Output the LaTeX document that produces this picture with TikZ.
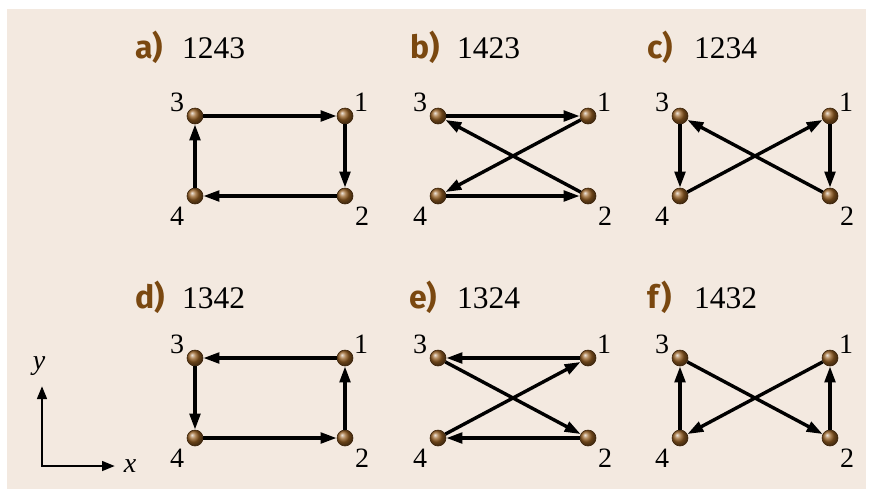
\documentclass[tikz,border=0pt]{standalone}
\usepackage{fontspec}
\setmainfont{Liberation Serif}
\newfontfamily\lblfont{Fira Sans}
\usetikzlibrary{arrows.meta}
\definecolor{bg}{RGB}{243,233,224}
\definecolor{ttl}{RGB}{122,72,16}
\definecolor{ballc}{RGB}{150,95,35}
\definecolor{balledge}{RGB}{60,35,10}
\tikzset{
  ball/.style={circle, minimum size=16pt, inner sep=0pt, shading=ball, ball color=ballc, draw=balledge, line width=0.6pt},
  num/.style={font=\fontsize{28}{28}\selectfont, inner sep=0pt},
  edge/.style={line width=3.4pt, -{Triangle[length=16pt,width=10.5pt]}},
  axis/.style={line width=2.8pt, {Triangle[length=13pt,width=9.5pt]}-{Triangle[length=13pt,width=9.5pt]}},
  letter/.style={font=\fontsize{32}{32}\lblfont\bfseries, text=ttl, anchor=base west, inner sep=0pt},
  code/.style={font=\fontsize{31.5}{31.5}\selectfont, anchor=base west, inner sep=0pt},
}
\newcommand\mkpanel[3]{%
  \begin{scope}[shift={(#2,#3)}]
    \node[ball] (#1-3) at (0,0) {};
    \node[ball] (#1-1) at (150,0) {};
    \node[ball] (#1-4) at (0,80) {};
    \node[ball] (#1-2) at (150,80) {};
    \node[num] (#1-l3) at (-18,-14) {3};
    \node[num] (#1-l1) at (166,-14) {1};
    \node[num] (#1-l4) at (-18,100) {4};
    \node[num] (#1-l2) at (167,100) {2};
  \end{scope}}
\begin{document}
\begin{tikzpicture}[x=1pt,y=-1pt]
  \useasboundingbox (0,0) rectangle (869,491);
  \fill[white] (0,0) rectangle (869,491);
  \fill[bg] (7,9) rectangle (866,489);

  % titles
  \node[letter] (ta) at (135,58) {a)};
  \node[code] (ca) at (182,58) {1243};
  \node[letter] (tb) at (410,58) {b)};
  \node[code] (cb) at (457,58) {1423};
  \node[letter] (tc) at (647,58) {c)};
  \node[code] (cc) at (694,58) {1234};
  \node[letter] (td) at (135,308) {d)};
  \node[code] (cd) at (182,308) {1342};
  \node[letter] (te) at (409,308) {e)};
  \node[code] (ce) at (457,308) {1324};
  \node[letter] (tf) at (647,308) {f)};
  \node[code] (cf) at (694,308) {1432};

  \mkpanel{a}{195}{116}
  \mkpanel{b}{438}{116}
  \mkpanel{c}{680}{116}
  \mkpanel{d}{195}{358}
  \mkpanel{e}{438}{358}
  \mkpanel{f}{680}{358}

  % a) 1243
  \draw[edge] (a-1) -- (a-2);
  \draw[edge] (a-2) -- (a-4);
  \draw[edge] (a-4) -- (a-3);
  \draw[edge] (a-3) -- (a-1);
  % b) 1423
  \draw[edge] (b-1) -- (b-4);
  \draw[edge] (b-4) -- (b-2);
  \draw[edge] (b-2) -- (b-3);
  \draw[edge] (b-3) -- (b-1);
  % c) 1234
  \draw[edge] (c-1) -- (c-2);
  \draw[edge] (c-2) -- (c-3);
  \draw[edge] (c-3) -- (c-4);
  \draw[edge] (c-4) -- (c-1);
  % d) 1342
  \draw[edge] (d-1) -- (d-3);
  \draw[edge] (d-3) -- (d-4);
  \draw[edge] (d-4) -- (d-2);
  \draw[edge] (d-2) -- (d-1);
  % e) 1324
  \draw[edge] (e-1) -- (e-3);
  \draw[edge] (e-3) -- (e-2);
  \draw[edge] (e-2) -- (e-4);
  \draw[edge] (e-4) -- (e-1);
  % f) 1432
  \draw[edge] (f-1) -- (f-4);
  \draw[edge] (f-4) -- (f-3);
  \draw[edge] (f-3) -- (f-2);
  \draw[edge] (f-2) -- (f-1);

  % axes
  \coordinate (o) at (42,466);
  \coordinate (yt) at (42,386);
  \coordinate (xt) at (115,466);
  \draw[axis] (yt) -- (o) -- (xt);
  \node[num] (ylab) at (39,366) {\textit{y}};
  \node[num] (xlab) at (130,466) {\textit{x}};
\end{tikzpicture}
\end{document}
